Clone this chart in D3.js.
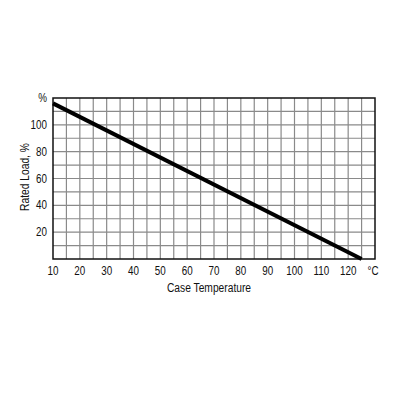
<!DOCTYPE html>
<html>
<head>
<meta charset="utf-8">
<script src="https://cdn.jsdelivr.net/npm/d3@7"></script>
<style>
  body { margin: 0; background: #fff; }
  text { font-family: "Liberation Sans", Arial, sans-serif; fill: #111; }
</style>
</head>
<body>
<div id="chart"></div>
<script>
// derating curve
const temps = [10, 125];
const loads = [116, 0];
const xTicks = [10, 20, 30, 40, 50, 60, 70, 80, 90, 100, 110, 120];
const yTicks = [20, 40, 60, 80, 100];

const width = 400, height = 400;
const margin = { top: 98, right: 25, bottom: 141, left: 53 };
const squeeze = 0.82; // the original uses a condensed face

const svg = d3.select('#chart')
  .append('svg')
  .attr('width', width)
  .attr('height', height);

const x = d3.scaleLinear()
  .domain([10, 130])
  .range([margin.left, width - margin.right]);

const y = d3.scaleLinear()
  .domain([0, 120])
  .range([height - margin.bottom, margin.top]);

// grid: every 5 degC, every 10 %
svg.append('g')
  .selectAll('line')
  .data(d3.range(15, 130, 5))
  .join('line')
  .attr('x1', d => x(d)).attr('x2', d => x(d))
  .attr('y1', y(0)).attr('y2', y(120))
  .style('stroke', '#8a8a8a')
  .style('stroke-width', 1.2);

svg.append('g')
  .selectAll('line')
  .data(d3.range(10, 120, 10))
  .join('line')
  .attr('x1', x(10)).attr('x2', x(130))
  .attr('y1', d => y(d)).attr('y2', d => y(d))
  .style('stroke', '#8a8a8a')
  .style('stroke-width', 1.2);

// frame
svg.append('rect')
  .attr('x', x(10)).attr('y', y(120))
  .attr('width', x(130) - x(10))
  .attr('height', y(0) - y(120))
  .style('fill', 'none')
  .style('stroke', '#111')
  .style('stroke-width', 1.5);

// derating line
const line = d3.line()
  .x((d, i) => x(temps[i]))
  .y((d, i) => y(loads[i]));

svg.append('path')
  .datum(temps)
  .attr('d', line)
  .style('fill', 'none')
  .style('stroke', '#000')
  .style('stroke-width', 4);

function label(g, px, py, anchor, size, txt, rot) {
  g.append('text')
    .attr('transform', `translate(${px},${py})` + (rot ? ' rotate(-90)' : '') + ` scale(${squeeze},1)`)
    .attr('text-anchor', anchor)
    .style('font-size', size + 'px')
    .text(txt);
}

// tick labels
const labels = svg.append('g');
xTicks.forEach(d => label(labels, x(d), y(0) + 16, 'middle', 12, d));
yTicks.forEach(d => label(labels, x(10) - 6, y(d) + 4, 'end', 12, d));
label(labels, x(10) - 6, y(120) + 4, 'end', 12, '%');
label(labels, x(130) - 2, y(0) + 16, 'middle', 12, '°C');

// axis titles
label(svg, 209, 292, 'middle', 12.5, 'Case Temperature');
label(svg, 29, 177, 'middle', 12.5, 'Rated Load, %', true);
</script>
</body>
</html>
